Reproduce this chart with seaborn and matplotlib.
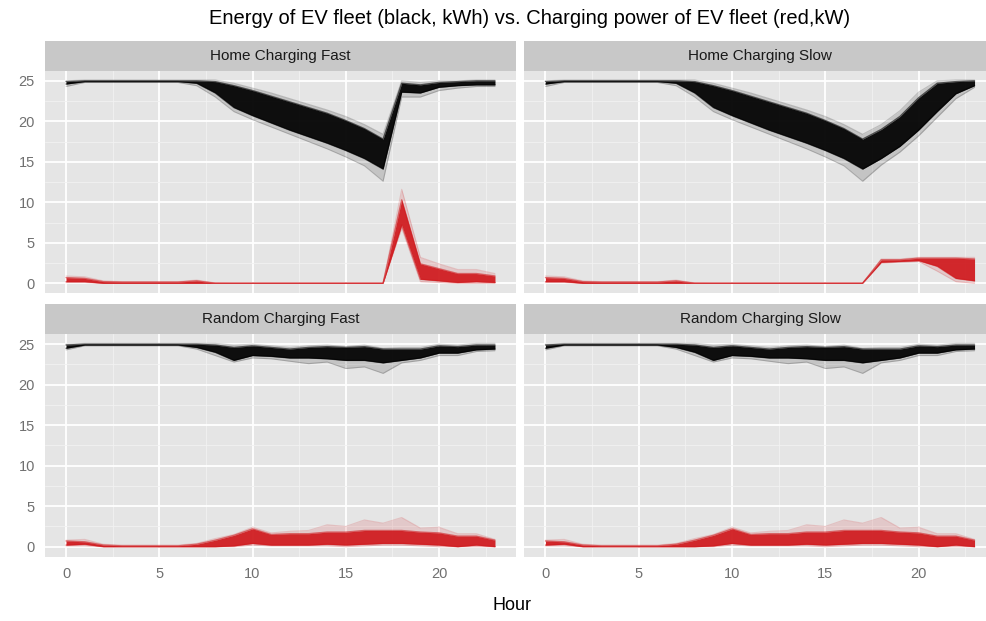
import matplotlib
matplotlib.use("Agg")
import numpy as np
import pandas as pd
import matplotlib.pyplot as plt
import seaborn as sns
from matplotlib.ticker import MultipleLocator

# ---------------- data ----------------
hours = list(range(24))
panels = ["Home Charging Fast", "Home Charging Slow",
          "Random Charging Fast", "Random Charging Slow"]
x_ticks = [0, 5, 10, 15, 20]
y_ticks = [0, 5, 10, 15, 20, 25]

# Home Charging Fast - energy (black, kWh)
hf_energy_max = [25.0, 25.1, 25.1, 25.1, 25.1, 25.1, 25.1, 25.1, 25.1, 24.7, 24.1, 23.5, 22.8, 22.1, 21.4, 20.6, 19.6, 18.4, 25.0, 24.8, 25.0, 25.0, 25.1, 25.1]
hf_energy_hi  = [24.9, 25.0, 25.0, 25.0, 25.0, 25.0, 25.0, 25.0, 24.9, 24.4, 23.8, 23.1, 22.4, 21.7, 21.0, 20.1, 19.1, 17.8, 24.7, 24.5, 24.8, 24.9, 25.0, 25.0]
hf_energy_lo  = [24.6, 24.9, 24.9, 24.9, 24.9, 24.9, 24.9, 24.7, 23.5, 21.7, 20.7, 19.8, 18.9, 18.1, 17.3, 16.4, 15.4, 14.1, 23.6, 23.5, 24.2, 24.4, 24.5, 24.5]
hf_energy_min = [24.3, 24.8, 24.8, 24.8, 24.8, 24.8, 24.8, 24.4, 23.0, 21.2, 20.2, 19.3, 18.4, 17.5, 16.6, 15.6, 14.5, 12.6, 23.0, 23.0, 23.8, 24.1, 24.3, 24.3]
# Home Charging Fast - power (red, kW)
hf_power_max = [0.9, 0.8, 0.3, 0.2, 0.2, 0.2, 0.2, 0.4, 0.05, 0, 0, 0, 0, 0, 0, 0, 0, 0, 11.6, 3.2, 2.4, 1.7, 1.7, 1.2]
hf_power_hi  = [0.7, 0.6, 0.2, 0.15, 0.15, 0.15, 0.15, 0.3, 0, 0, 0, 0, 0, 0, 0, 0, 0, 0, 10.3, 2.4, 1.8, 1.2, 1.2, 0.9]
hf_power_lo  = [0.2, 0.2, 0, 0, 0, 0, 0, 0, 0, 0, 0, 0, 0, 0, 0, 0, 0, 0, 7.2, 0.5, 0.3, 0.1, 0.2, 0.1]
hf_power_min = [0.1, 0.1, 0, 0, 0, 0, 0, 0, 0, 0, 0, 0, 0, 0, 0, 0, 0, 0, 6.8, 0.2, 0.1, 0.0, 0.0, 0.0]

# Home Charging Slow - energy
hs_energy_max = [25.0, 25.1, 25.1, 25.1, 25.1, 25.1, 25.1, 25.1, 25.1, 24.7, 24.1, 23.5, 22.8, 22.1, 21.4, 20.6, 19.6, 18.4, 19.6, 21.3, 23.6, 25.0, 25.1, 25.1]
hs_energy_hi  = [24.9, 25.0, 25.0, 25.0, 25.0, 25.0, 25.0, 25.0, 24.9, 24.4, 23.8, 23.1, 22.4, 21.7, 21.0, 20.1, 19.1, 17.8, 19.0, 20.6, 22.9, 24.7, 24.9, 25.0]
hs_energy_lo  = [24.6, 24.9, 24.9, 24.9, 24.9, 24.9, 24.9, 24.7, 23.5, 21.7, 20.7, 19.8, 18.9, 18.1, 17.3, 16.4, 15.4, 14.1, 15.4, 16.9, 18.9, 21.2, 23.4, 24.4]
hs_energy_min = [24.3, 24.8, 24.8, 24.8, 24.8, 24.8, 24.8, 24.4, 23.0, 21.2, 20.2, 19.3, 18.4, 17.5, 16.6, 15.6, 14.5, 12.6, 14.6, 16.2, 18.2, 20.5, 22.8, 24.2]
# Home Charging Slow - power
hs_power_max = [0.9, 0.8, 0.3, 0.2, 0.2, 0.2, 0.2, 0.4, 0.05, 0, 0, 0, 0, 0, 0, 0, 0, 0, 3.0, 3.0, 3.2, 3.2, 3.2, 3.2]
hs_power_hi  = [0.7, 0.6, 0.2, 0.15, 0.15, 0.15, 0.15, 0.3, 0, 0, 0, 0, 0, 0, 0, 0, 0, 0, 2.9, 2.9, 3.1, 3.1, 3.1, 3.0]
hs_power_lo  = [0.2, 0.2, 0, 0, 0, 0, 0, 0, 0, 0, 0, 0, 0, 0, 0, 0, 0, 0, 2.6, 2.7, 2.8, 2.1, 0.6, 0.3]
hs_power_min = [0.1, 0.1, 0, 0, 0, 0, 0, 0, 0, 0, 0, 0, 0, 0, 0, 0, 0, 0, 2.5, 2.6, 2.7, 1.5, 0.2, 0.0]

# Random Charging (Fast and Slow look the same) - energy
rnd_energy_max = [25.0, 25.1, 25.1, 25.1, 25.1, 25.1, 25.1, 25.1, 25.1, 24.9, 25.0, 24.8, 24.6, 24.8, 24.9, 24.7, 24.9, 24.5, 24.6, 24.6, 25.0, 24.9, 25.1, 25.1]
rnd_energy_hi  = [24.9, 25.0, 25.0, 25.0, 25.0, 25.0, 25.0, 25.0, 24.9, 24.6, 24.8, 24.6, 24.4, 24.6, 24.7, 24.6, 24.7, 24.4, 24.4, 24.4, 24.8, 24.7, 24.9, 24.9]
rnd_energy_lo  = [24.5, 24.9, 24.9, 24.9, 24.9, 24.9, 24.9, 24.6, 24.0, 23.0, 23.6, 23.5, 23.3, 23.3, 23.2, 23.0, 23.0, 22.7, 23.0, 23.3, 23.9, 23.9, 24.3, 24.4]
rnd_energy_min = [24.3, 24.8, 24.8, 24.8, 24.8, 24.8, 24.8, 24.4, 23.6, 22.8, 23.3, 23.2, 22.9, 22.6, 22.8, 22.0, 22.2, 21.4, 22.7, 23.0, 23.6, 23.6, 24.1, 24.2]
# Random Charging - power
rnd_power_max = [0.8, 0.9, 0.3, 0.2, 0.2, 0.2, 0.2, 0.4, 1.0, 1.5, 2.4, 1.7, 1.9, 2.0, 2.7, 2.5, 3.3, 2.9, 3.6, 2.3, 2.4, 1.6, 1.6, 0.9]
rnd_power_hi  = [0.7, 0.6, 0.2, 0.1, 0.1, 0.1, 0.1, 0.3, 0.8, 1.4, 2.2, 1.5, 1.6, 1.6, 1.8, 1.8, 2.0, 2.0, 2.0, 1.8, 1.7, 1.3, 1.3, 0.8]
rnd_power_lo  = [0.2, 0.3, 0.0, 0.0, 0.0, 0.0, 0.0, 0.0, 0.0, 0.1, 0.4, 0.2, 0.2, 0.2, 0.3, 0.2, 0.3, 0.4, 0.4, 0.3, 0.2, 0.0, 0.2, 0.0]
rnd_power_min = [0.1, 0.1, 0.0, 0.0, 0.0, 0.0, 0.0, 0.0, 0.0, 0.0, 0.2, 0.1, 0.1, 0.1, 0.1, 0.0, 0.1, 0.2, 0.2, 0.1, 0.0, 0.0, 0.0, 0.0]

series = {
    "Home Charging Fast": {"energy": (hf_energy_min, hf_energy_lo, hf_energy_hi, hf_energy_max),
                           "power": (hf_power_min, hf_power_lo, hf_power_hi, hf_power_max)},
    "Home Charging Slow": {"energy": (hs_energy_min, hs_energy_lo, hs_energy_hi, hs_energy_max),
                           "power": (hs_power_min, hs_power_lo, hs_power_hi, hs_power_max)},
    "Random Charging Fast": {"energy": (rnd_energy_min, rnd_energy_lo, rnd_energy_hi, rnd_energy_max),
                             "power": (rnd_power_min, rnd_power_lo, rnd_power_hi, rnd_power_max)},
    "Random Charging Slow": {"energy": (rnd_energy_min, rnd_energy_lo, rnd_energy_hi, rnd_energy_max),
                             "power": (rnd_power_min, rnd_power_lo, rnd_power_hi, rnd_power_max)},
}

# ---------------- style ----------------
sns.set_theme(style="darkgrid")
plt.rcParams['font.family'] = ['Liberation Sans', 'DejaVu Sans']

PANEL_BG = "#E5E5E5"
STRIP_BG = "#C8C8C8"
BLACK = "#000000"
RED = "#D01B1F"
TICK_C = "#707070"

W, H = 987, 621
fig = plt.figure(figsize=(W / 100, H / 100), dpi=100)
fig.patch.set_facecolor("white")

def add_box(l, t, r, b):
    return fig.add_axes([l / W, 1 - b / H, (r - l) / W, (b - t) / H])

cols = [(44.6, 516.4), (524.0, 996.0)]
rows = [((41.0, 70.7), (70.7, 293.4)), ((304.4, 334.1), (334.1, 556.8))]

for i, name in enumerate(panels):
    r, c = divmod(i, 2)
    (st, sb), (pt, pb) = rows[r]
    l, rr = cols[c]

    # strip
    sax = add_box(l, st, rr, sb)
    sax.set_facecolor(STRIP_BG)
    sax.set_xticks([]); sax.set_yticks([])
    for sp in sax.spines.values():
        sp.set_visible(False)
    sax.text(0.5, 0.5, name, transform=sax.transAxes, ha="center", va="center",
             fontsize=11, color="#1A1A1A")

    ax = add_box(l, pt, rr, pb)
    ax.set_facecolor(PANEL_BG)
    for sp in ax.spines.values():
        sp.set_visible(False)

    for key, col in (("energy", BLACK), ("power", RED)):
        mn, lo, hi, mx = series[name][key]
        ax.fill_between(hours, mn, mx, color=col, alpha=0.14, lw=0, zorder=2)
        ax.fill_between(hours, lo, hi, color=col, alpha=0.93, lw=0, zorder=3)
        outer = pd.DataFrame({
            "Hour": hours * 2,
            "value": list(mn) + list(mx),
            "curve": ["min"] * 24 + ["max"] * 24,
        })
        inner = pd.DataFrame({
            "Hour": hours * 2,
            "value": list(lo) + list(hi),
            "curve": ["lo"] * 24 + ["hi"] * 24,
        })
        sns.lineplot(data=outer, x="Hour", y="value", units="curve", estimator=None,
                     color=col, alpha=0.18, lw=0.8, ax=ax, zorder=4)
        sns.lineplot(data=inner, x="Hour", y="value", units="curve", estimator=None,
                     color=col, alpha=0.6, lw=1.0, ax=ax, zorder=4)

    ax.set_xlim(-1.15, 24.15)
    ax.set_ylim(-1.25, 26.25)
    ax.set_xticks(x_ticks)
    ax.set_yticks(y_ticks)
    ax.xaxis.set_minor_locator(MultipleLocator(2.5))
    ax.yaxis.set_minor_locator(MultipleLocator(2.5))
    ax.grid(which="major", color="white", lw=1.3, zorder=0)
    ax.grid(which="minor", color="#F2F2F2", lw=0.6, zorder=0)
    ax.set_axisbelow(True)
    ax.set_xlabel(""); ax.set_ylabel("")
    ax.tick_params(which="minor", length=0)
    ax.tick_params(axis="both", which="major", colors=TICK_C, labelcolor=TICK_C,
                   labelsize=10.5, length=4, width=0.9, pad=3)
    if c == 1:
        ax.tick_params(axis="y", left=False, labelleft=False)
    if r == 0:
        ax.tick_params(axis="x", bottom=False, labelbottom=False)

fig.text(530 / W, 1 - 18 / H,
         "Energy of EV fleet (black, kWh) vs. Charging power of EV fleet (red,kW)",
         ha="center", va="center", fontsize=14.5, color="#000000")
fig.text(512 / W, 1 - 605 / H, "Hour", ha="center", va="center",
         fontsize=13, color="#000000")

fig.savefig("out.png", dpi=100, facecolor="white")
